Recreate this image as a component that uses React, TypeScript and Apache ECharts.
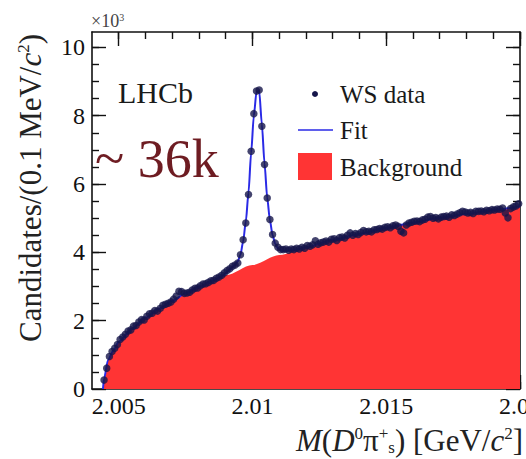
import React, { useEffect, useRef } from "react";
import * as echarts from "echarts";

// Histogram binning (0.1 MeV bins) of the WS D0 pi_s+ mass spectrum
const binStart = 2.00445;
const binWidth = 0.0001;

// WS data, candidates per bin in units of 10^3
const wsData = [
  0.26, 0.61, 0.95, 1.1, 1.19, 1.3, 1.45, 1.52, 1.6, 1.7,
  1.73, 1.84, 1.86, 1.96, 2.03, 2.02, 2.13, 2.2, 2.22, 2.3,
  2.28, 2.36, 2.45, 2.48, 2.51, 2.55, 2.63, 2.72, 2.86, 2.85,
  2.8, 2.81, 2.83, 2.9, 2.95, 2.96, 3.02, 3.07, 3.08, 3.12,
  3.17, 3.18, 3.24, 3.28, 3.33, 3.4, 3.47, 3.52, 3.59, 3.63,
  3.69, 3.93, 4.37, 4.86, 5.69, 6.96, 8.06, 8.72, 8.75, 7.69,
  6.57, 5.59, 4.96, 4.52, 4.27, 4.15, 4.08, 4.08, 4.1, 4.06,
  4.1, 4.08, 4.12, 4.1, 4.15, 4.12, 4.2, 4.18, 4.22, 4.34,
  4.24, 4.28, 4.3, 4.33, 4.3, 4.38, 4.4, 4.35, 4.43, 4.45,
  4.42, 4.5, 4.57, 4.5, 4.55, 4.52, 4.58, 4.64, 4.6, 4.62,
  4.6, 4.66, 4.67, 4.7, 4.68, 4.73, 4.75, 4.72, 4.78, 4.8,
  4.76, 4.62, 4.57, 4.8, 4.86, 4.88, 4.91, 4.92, 4.9, 4.95,
  4.97, 5.03, 5.05, 5.0, 5.02, 4.98, 5.03, 5.05, 5.06, 5.03,
  5.1, 5.08, 5.12, 5.16, 5.2, 5.18, 5.15, 5.17, 5.14, 5.2,
  5.2, 5.21, 5.19, 5.23, 5.22, 5.25, 5.24, 5.27, 5.26, 5.3,
  5.15, 5.01, 5.28, 5.33, 5.36, 5.42,
];

// Total fit curve
const fitX = [
  2.00441, 2.00445, 2.0046, 2.0048, 2.005, 2.0055, 2.006, 2.0065, 2.007, 2.0075,
  2.008, 2.0085, 2.00885, 2.00895, 2.00905, 2.00915, 2.00925, 2.00935, 2.00945, 2.00955,
  2.00965, 2.00975, 2.00985, 2.00995, 2.01005, 2.01015, 2.01025, 2.01035, 2.01045, 2.01055,
  2.01065, 2.01075, 2.01085, 2.01095, 2.01105, 2.01115, 2.0115, 2.012, 2.013, 2.014,
  2.015, 2.016, 2.017, 2.018, 2.019, 2.02,
];
const fitY = [
  0, 0.3, 0.85, 1.13, 1.38, 1.77, 2.09, 2.35, 2.58, 2.8,
  2.99, 3.17, 3.3, 3.36, 3.43, 3.5, 3.57, 3.64, 3.74, 3.93,
  4.32, 4.9, 5.75, 6.92, 8.0, 8.7, 8.72, 7.75, 6.6, 5.6,
  4.95, 4.5, 4.25, 4.12, 4.06, 4.04, 4.06, 4.15, 4.36, 4.54,
  4.72, 4.87, 5.01, 5.13, 5.24, 5.35,
];

// Background component
const bgX = [
  2.00441, 2.00445, 2.0046, 2.0048, 2.005, 2.0055, 2.006, 2.0065, 2.007, 2.0075,
  2.008, 2.009, 2.01, 2.011, 2.012, 2.013, 2.014, 2.015, 2.016, 2.017,
  2.018, 2.019, 2.02,
];
const bgY = [
  0, 0.3, 0.85, 1.13, 1.38, 1.77, 2.09, 2.35, 2.58, 2.8,
  2.99, 3.33, 3.63, 3.92, 4.15, 4.36, 4.54, 4.72, 4.87, 5.01,
  5.13, 5.24, 5.35,
];

// Axis ticks
const xMajorTicks = [2.005, 2.01, 2.015, 2.02];
const xMinorTicks = [
  2.005, 2.006, 2.007, 2.008, 2.009, 2.01, 2.011, 2.012, 2.013, 2.014,
  2.015, 2.016, 2.017, 2.018, 2.019, 2.02,
];
const yMajorTicks = [0, 2, 4, 6, 8, 10];
const yMinorTicks = [
  0.5, 1, 1.5, 2, 2.5, 3, 3.5, 4, 4.5, 5, 5.5, 6, 6.5, 7, 7.5, 8, 8.5, 9, 9.5, 10,
];

const X_MIN = 2.004;
const X_MAX = 2.02;
const Y_MIN = 0;
const Y_MAX = 10.45;

const FONT = '"Liberation Serif", "Times New Roman", serif';
const INK = "#111111";
const RED = "#ff3434";
const BLUE = "#2a2ae6";
const DOT = "#15154a";

function tickStyle(len: number, values: number[]) {
  return {
    show: true,
    inside: true,
    length: len,
    customValues: values,
    lineStyle: { color: INK, width: 1.4 },
  };
}

export default function App() {
  const ref = useRef<HTMLDivElement>(null);

  useEffect(() => {
    document.body.style.margin = "0";
    if (!ref.current) return;
    const chart = echarts.init(ref.current, undefined, { renderer: "svg" });

    const axisLineOn = { show: true, onZero: false, lineStyle: { color: INK, width: 1.6 } };
    const axisLineOff = { show: false, onZero: false };
    const noLabel = { show: false };
    const noSplit = { show: false };

    const xCommon = { type: "value", min: X_MIN, max: X_MAX, splitLine: noSplit };
    const yCommon = { type: "value", min: Y_MIN, max: Y_MAX, splitLine: noSplit };

    const option: any = {
      animation: false,
      backgroundColor: "#ffffff",
      grid: {
        left: 92,
        right: 6,
        top: 32,
        bottom: 70,
        containLabel: false,
        outerBoundsMode: "none",
      },
      xAxis: [
        {
          ...xCommon,
          position: "bottom",
          axisLine: axisLineOn,
          axisTick: tickStyle(14, xMajorTicks),
          axisLabel: {
            show: true,
            customValues: xMajorTicks,
            formatter: (v: number) => String(Number(v.toFixed(3))),
            margin: 5,
            fontSize: 24,
            fontFamily: FONT,
            color: INK,
            showMinLabel: true,
            showMaxLabel: true,
          },
        },
        { ...xCommon, position: "bottom", axisLine: axisLineOff, axisTick: tickStyle(7, xMinorTicks), axisLabel: noLabel },
        { ...xCommon, position: "top", axisLine: axisLineOn, axisTick: tickStyle(14, xMajorTicks), axisLabel: noLabel },
        { ...xCommon, position: "top", axisLine: axisLineOff, axisTick: tickStyle(7, xMinorTicks), axisLabel: noLabel },
      ],
      yAxis: [
        {
          ...yCommon,
          position: "left",
          axisLine: axisLineOn,
          axisTick: tickStyle(14, yMajorTicks),
          axisLabel: {
            show: true,
            customValues: yMajorTicks,
            margin: 7,
            fontSize: 24,
            fontFamily: FONT,
            color: INK,
            showMinLabel: true,
            showMaxLabel: true,
          },
        },
        { ...yCommon, position: "left", axisLine: axisLineOff, axisTick: tickStyle(7, yMinorTicks), axisLabel: noLabel },
        { ...yCommon, position: "right", axisLine: axisLineOn, axisTick: tickStyle(14, yMajorTicks), axisLabel: noLabel },
        { ...yCommon, position: "right", axisLine: axisLineOff, axisTick: tickStyle(7, yMinorTicks), axisLabel: noLabel },
      ],
      series: [
        {
          name: "Background",
          type: "line",
          xAxisIndex: 0,
          yAxisIndex: 0,
          data: bgX.map((x, i) => [x, bgY[i]]),
          smooth: 0.3,
          smoothMonotone: "x",
          symbol: "none",
          lineStyle: { width: 0, color: RED },
          areaStyle: { color: RED, opacity: 1 },
          silent: true,
          z: 1,
        },
        {
          name: "Fit",
          type: "line",
          xAxisIndex: 0,
          yAxisIndex: 0,
          data: fitX.map((x, i) => [x, fitY[i]]),
          smooth: 0.25,
          smoothMonotone: "x",
          symbol: "none",
          lineStyle: { width: 2, color: BLUE },
          silent: true,
          z: 2,
        },
        {
          name: "WS data",
          type: "scatter",
          xAxisIndex: 0,
          yAxisIndex: 0,
          data: wsData.map((v, i) => [binStart + i * binWidth, v]),
          symbol: "circle",
          symbolSize: 7.5,
          itemStyle: { color: DOT },
          silent: true,
          z: 3,
        },
      ],
      graphic: [
        // x10^3 multiplier
        {
          type: "text",
          x: 91,
          y: 21,
          style: {
            text: "{n|\u00d710}{s|3}",
            align: "left",
            verticalAlign: "middle",
            rich: {
              n: { fontSize: 18, fontFamily: FONT, fill: "#444" },
              s: { fontSize: 10, fontFamily: FONT, fill: "#444", verticalAlign: "top" },
            },
          },
        },
        // LHCb label
        {
          type: "text",
          x: 118,
          y: 92,
          style: { text: "LHCb", fontSize: 30, fontFamily: FONT, fill: "#1a1a1a", align: "left", verticalAlign: "middle" },
        },
        // ~36k annotation
        {
          type: "text",
          x: 95,
          y: 159,
          style: { text: "~ 36k", fontSize: 54, fontFamily: FONT, fill: "#6e1c22", align: "left", verticalAlign: "middle" },
        },
        // Legend
        { type: "circle", shape: { cx: 315, cy: 94, r: 3 }, style: { fill: DOT } },
        {
          type: "text",
          x: 340,
          y: 94,
          style: { text: "WS data", fontSize: 25, fontFamily: FONT, fill: "#1a1a1a", align: "left", verticalAlign: "middle" },
        },
        { type: "line", shape: { x1: 298, y1: 130, x2: 333, y2: 130 }, style: { stroke: BLUE, lineWidth: 1.4 } },
        {
          type: "text",
          x: 340,
          y: 130,
          style: { text: "Fit", fontSize: 25, fontFamily: FONT, fill: "#1a1a1a", align: "left", verticalAlign: "middle" },
        },
        { type: "rect", shape: { x: 298, y: 153, width: 34, height: 27 }, style: { fill: RED } },
        {
          type: "text",
          x: 340,
          y: 167,
          style: { text: "Background", fontSize: 25, fontFamily: FONT, fill: "#1a1a1a", align: "left", verticalAlign: "middle" },
        },
        // y axis title
        {
          type: "text",
          x: 30,
          y: 188,
          rotation: Math.PI / 2,
          style: {
            text: "{n|Candidates/(0.1 MeV/}{i|c}{s|2}{n|)}",
            align: "center",
            verticalAlign: "middle",
            rich: {
              n: { fontSize: 31, fontFamily: FONT, fill: "#222" },
              i: { fontSize: 31, fontFamily: FONT, fontStyle: "italic", fill: "#222" },
              s: { fontSize: 17, fontFamily: FONT, fill: "#222", verticalAlign: "top" },
            },
          },
        },
        // x axis title
        {
          type: "text",
          x: 523,
          y: 440,
          style: {
            text: "{i|M}{n|(}{i|D}{s|0}{n|\u03c0}{s|+}{b|s}{n|) [GeV/}{i|c}{s|2}{n|]}",
            align: "right",
            verticalAlign: "middle",
            rich: {
              n: { fontSize: 31, fontFamily: FONT, fill: "#222" },
              i: { fontSize: 31, fontFamily: FONT, fontStyle: "italic", fill: "#222" },
              s: { fontSize: 17, fontFamily: FONT, fill: "#222", verticalAlign: "top" },
              b: { fontSize: 17, fontFamily: FONT, fill: "#222", verticalAlign: "bottom" },
            },
          },
        },
      ],
    };

    chart.setOption(option);
    return () => {
      chart.dispose();
    };
  }, []);

  return <div ref={ref} style={{ width: 526, height: 459 }} />;
}
